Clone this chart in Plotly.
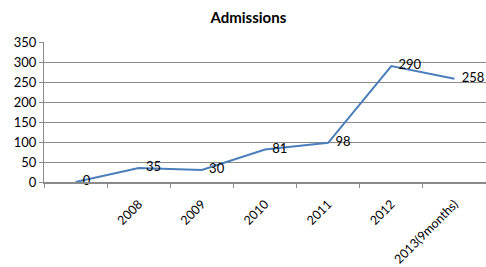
import plotly.graph_objects as go

categories = [" ", "2008", "2009", "2010", "2011", "2012", "2013(9months)"]
admissions = [0, 35, 30, 81, 98, 290, 258]
y_ticks = [0, 50, 100, 150, 200, 250, 300, 350]

FONT = "Lato"
GRID = "#8a8a8a"

fig = go.Figure()
fig.add_trace(go.Scatter(
    x=categories, y=admissions,
    mode="lines+markers+text",
    text=[str(v) for v in admissions],
    textposition="middle right",
    textfont=dict(family=FONT, size=13, color="#000000"),
    line=dict(color="#4A7EBB", width=2),
    marker=dict(size=10, opacity=0),
    cliponaxis=False,
    hoverinfo="skip",
))

fig.update_layout(
    width=486, height=267,
    margin=dict(l=44, r=0, t=42, b=85, autoexpand=False),
    paper_bgcolor="white", plot_bgcolor="white",
    showlegend=False,
    title=dict(text="<b>Admissions</b>", x=0.511, xanchor="center", y=0.933, yanchor="middle",
               font=dict(family=FONT, size=15, color="#000000"), automargin=False),
    font=dict(family=FONT, size=13, color="#000000"),
)
fig.update_xaxes(
    type="category",
    automargin=False,
    tickson="boundaries",
    ticks="outside", ticklen=4, tickcolor=GRID,
    showline=True, linecolor=GRID, linewidth=2,
    showgrid=False,
    tickangle=-45,
    ticklabelstandoff=8,
    tickfont=dict(family=FONT, size=12.5, color="#000000"),
    range=[-0.5, len(categories) - 0.5],
)
fig.update_yaxes(
    range=[0, 350],
    automargin=False,
    tickvals=y_ticks,
    ticks="outside", ticklen=4, tickcolor=GRID,
    showline=True, linecolor=GRID, linewidth=1,
    showgrid=True, gridcolor=GRID, gridwidth=1,
    zeroline=False,
    tickfont=dict(family=FONT, size=13, color="#000000"),
)

fig.write_html(
    "out.html",
    config={"displayModeBar": False, "staticPlot": True},
    post_script="document.body.style.margin='0';document.body.style.overflow='hidden';",
)
